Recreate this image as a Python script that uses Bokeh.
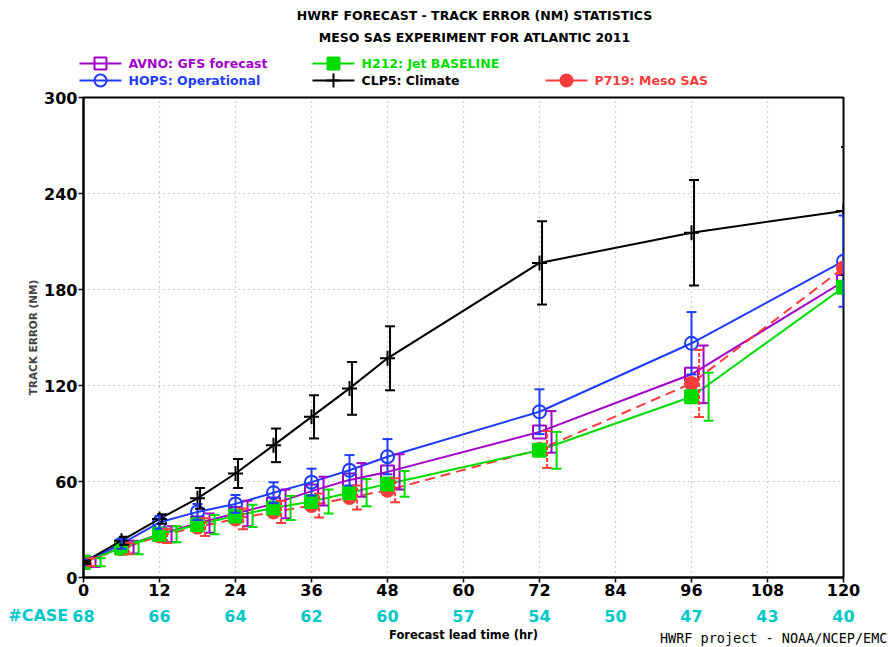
from bokeh.plotting import figure
from bokeh.models import Range1d, FixedTicker, ColumnDataSource, Whisker, TeeHead
from bokeh.layouts import column
from bokeh.embed import file_html
from bokeh.resources import INLINE
from bokeh.core.properties import value

# ---------------- data ----------------
hours = [0, 6, 12, 18, 24, 30, 36, 42, 48, 72, 96, 120]

avno = [9.5, 19, 27, 34, 40, 46, 54, 61, 66, 91, 127, 185]
avno_err = [3, 4, 5, 6, 8, 9, 9, 10.5, 11, 13, 18, 26]

hops = [9.5, 21, 34.5, 41, 46, 53, 59.6, 67, 75.5, 103.6, 146.4, 197.7]
hops_err = [2, 3, 4, 5, 5.5, 6.5, 8.4, 9.5, 11, 14, 19.5, 28.5]

h212 = [9.5, 18.5, 27, 33, 38.5, 43.5, 47.5, 53, 58.5, 79.5, 113, 181.4]
h212_err = [2.5, 4, 5, 6, 7, 7.5, 7.5, 8.5, 8, 11.5, 15, 36]

clp5 = [9.5, 23, 36.6, 49.5, 65, 82.6, 100.4, 118.2, 137, 196.6, 215.5, 229.1]
clp5_err = [1, 2.5, 3, 6.5, 9, 10.5, 13.5, 16.5, 20, 26, 33, 40]

p719 = [9.5, 18, 26, 31.5, 36.6, 41, 45, 50, 54.5, 80, 121.3, 193.5]
p719_err = [2.5, 3.5, 4.5, 5.5, 6.5, 7, 7.5, 7.5, 7.5, 11.5, 21, 42.5]

case_hours = [0, 12, 24, 36, 48, 60, 72, 84, 96, 108, 120]
case_counts = [68, 66, 64, 62, 60, 57, 54, 50, 47, 43, 40]
y_ticks = [0, 60, 120, 180, 240, 300]

title1 = "HWRF FORECAST - TRACK ERROR (NM) STATISTICS"
title2 = "MESO SAS EXPERIMENT FOR ATLANTIC 2011"
x_title = "Forecast lead time (hr)"
y_title = "TRACK ERROR (NM)"
credit = "HWRF project - NOAA/NCEP/EMC"

PURPLE = "#a000c8"
BLUE = "#1e3cff"
GREEN = "#00dc00"
BLACK = "#000000"
RED = "#fa3c3c"
CYAN = "#00c8c8"

# name, values, errors, colour, marker, filled, dash, bar offset (hr)
series = [
    ("AVNO: GFS forecast", avno, avno_err, PURPLE, "square", False, "solid", 1.9),
    ("HOPS: Operational", hops, hops_err, BLUE, "circle", False, "solid", 0.0),
    ("P719: Meso SAS", p719, p719_err, RED, "circle", True, "10 6", 1.2),
    ("H212: Jet BASELINE", h212, h212_err, GREEN, "square", True, "solid", 2.7),
    ("CLP5: Climate", clp5, clp5_err, BLACK, "cross", False, "solid", 0.4),
]

FONT = "DejaVu Sans"
W = 891
LEFT, RIGHT = 83, 48      # frame borders (px)
HEAD_H, FOOT_H = 88, 40
TOP_PAD = 97 - HEAD_H
MAIN_H = 647 - HEAD_H - FOOT_H


def no_align(fig):
    try:
        fig.frame_align = False
    except Exception:
        pass


# ---------------- header (titles + legend) ----------------
h = figure(width=W, height=HEAD_H, x_range=Range1d(0, W), y_range=Range1d(0, HEAD_H),
           output_backend="svg", toolbar_location=None, min_border=0,
           x_axis_location=None, y_axis_location=None)
no_align(h)
h.grid.visible = False
h.outline_line_color = None
h.background_fill_color = "white"
h.border_fill_color = "white"

h.text(x=[474, 474], y=[HEAD_H - 15, HEAD_H - 37], text=[title1, title2], text_font=value(FONT),
       text_font_style="bold", text_font_size="12.5px", text_align="center",
       text_baseline="middle", text_color="black")

legend_pos = {
    "AVNO: GFS forecast": (79, HEAD_H - 63),
    "H212: Jet BASELINE": (312, HEAD_H - 63),
    "HOPS: Operational": (79, HEAD_H - 80),
    "CLP5: Climate": (312, HEAD_H - 80),
    "P719: Meso SAS": (545, HEAD_H - 80),
}
for name, vals, errs, col, mk, filled, dash, off in series:
    lx, ly = legend_pos[name]
    h.line([lx, lx + 42], [ly, ly], line_color=col, line_width=2)
    h.scatter([lx + 21], [ly], marker=mk, size=12 if mk != "cross" else 14,
              line_color=col, fill_color=col if filled else None, line_width=2)
    h.text(x=[lx + 49], y=[ly], text=[name], text_font=value(FONT), text_font_style="bold",
           text_font_size="12.5px", text_baseline="middle", text_align="left", text_color=col)

# ---------------- main chart ----------------
p = figure(width=W, height=MAIN_H, x_range=Range1d(0, 120), y_range=Range1d(0, 300),
           output_backend="svg", toolbar_location=None,
           min_border_left=LEFT, min_border_right=RIGHT, min_border_top=TOP_PAD,
           min_border_bottom=MAIN_H - TOP_PAD - 480)
p.background_fill_color = "white"
p.border_fill_color = "white"
p.outline_line_color = "black"
p.outline_line_width = 2

p.xaxis.ticker = FixedTicker(ticks=case_hours)
p.yaxis.ticker = FixedTicker(ticks=y_ticks)
p.xgrid.ticker = FixedTicker(ticks=case_hours)
p.ygrid.ticker = FixedTicker(ticks=y_ticks)
p.grid.grid_line_color = "#9a9a9a"
p.grid.grid_line_dash = "1 4"
p.grid.grid_line_width = 1.2

for ax in (p.xaxis, p.yaxis):
    ax.axis_line_width = 2
    ax.axis_line_color = "black"
    ax.major_tick_out = 5
    ax.major_tick_in = 0
    ax.major_tick_line_width = 1.5
    ax.minor_tick_line_color = None
    ax.major_label_text_font = FONT
    ax.major_label_text_font_style = "bold"
    ax.major_label_text_font_size = "16px"
    ax.major_label_text_color = "black"
p.xaxis.major_label_standoff = 1
p.yaxis.major_label_standoff = 1
p.yaxis.axis_label = y_title
p.yaxis.axis_label_text_font = FONT
p.yaxis.axis_label_text_font_style = "bold"
p.yaxis.axis_label_text_font_size = "10.5px"
p.yaxis.axis_label_standoff = 2

for name, vals, errs, col, mk, filled, dash, off in series:
    p.line(hours, vals, line_color=col, line_width=2, line_dash=dash)
    src = ColumnDataSource(dict(
        x=[hh + off for hh in hours],
        upper=[v + e for v, e in zip(vals, errs)],
        lower=[v - e for v, e in zip(vals, errs)],
    ))
    w = Whisker(source=src, base="x", upper="upper", lower="lower",
                line_color=col, line_width=2, level="glyph",
                line_dash="4 2" if dash != "solid" else "solid",
                upper_head=TeeHead(size=10, line_color=col, line_width=2),
                lower_head=TeeHead(size=10, line_color=col, line_width=2))
    p.add_layout(w)
    p.scatter(hours, vals, marker=mk, size=13 if mk != "cross" else 15,
              line_color=col, fill_color=col if filled else None, line_width=2)

# ---------------- footer (#CASE row, x title, credit) ----------------
px_per_hr = 760 / 120
f = figure(width=W, height=FOOT_H,
           x_range=Range1d(-LEFT / px_per_hr, (W - LEFT) / px_per_hr),
           y_range=Range1d(0, FOOT_H),
           output_backend="svg", toolbar_location=None, min_border=0,
           x_axis_location=None, y_axis_location=None)
no_align(f)
f.grid.visible = False
f.outline_line_color = None
f.background_fill_color = "white"
f.border_fill_color = "white"

f.text(x=case_hours, y=[FOOT_H - 8] * len(case_hours), text=[str(c) for c in case_counts],
       text_font=value(FONT), text_font_style="bold", text_font_size="16px",
       text_color=CYAN, text_align="center", text_baseline="middle")
f.text(x=[-2.4], y=[FOOT_H - 8], text=["#CASE"], text_font=value(FONT), text_font_style="bold",
       text_font_size="16px", text_color=CYAN, text_align="right", text_baseline="middle")
f.text(x=[60], y=[FOOT_H - 27], text=[x_title], text_font=value(FONT), text_font_style="bold",
       text_font_size="11.5px", text_color="black", text_align="center", text_baseline="middle")
f.text(x=[(W - 4 - LEFT) / px_per_hr], y=[FOOT_H - 30], text=[credit],
       text_font=value("DejaVu Sans Mono"), text_font_size="13.5px", text_color="black",
       text_align="right", text_baseline="middle")

layout = column(h, p, f, spacing=0)
open("out.html", "w").write(file_html(layout, INLINE))
